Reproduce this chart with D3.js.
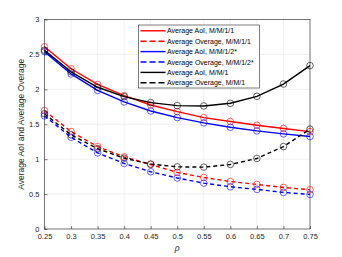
<!DOCTYPE html>
<meta charset="utf-8">
<style>
body { margin: 0; background: #fff; font-family: Helvetica, Arial, sans-serif; }
.grid line { stroke: #e6e6e6; stroke-width: 0.6; }
.axis text { font-size: 7.5px; fill: #262626; }
.axis path, .axis line { stroke: #262626; stroke-width: 0.6; }
</style>
<body>
<div id="chart"></div>
<script src="https://d3js.org/d3.v7.min.js"></script>
<script>
var width = 342, height = 257;
var margin = {top: 19.5, right: 32, bottom: 28, left: 44.5};

// rho values
var rho = [0.25, 0.3, 0.35, 0.4, 0.45, 0.5, 0.55, 0.6, 0.65, 0.7, 0.75];

var aoiM11 = [2.61, 2.295, 2.07, 1.91, 1.776, 1.68, 1.595, 1.54, 1.486, 1.44, 1.395];
var ovM11 = [1.695, 1.395, 1.18, 1.033, 0.924, 0.81, 0.738, 0.68, 0.638, 0.595, 0.562];
var aoiM12 = [2.54, 2.22, 1.985, 1.82, 1.69, 1.595, 1.52, 1.457, 1.405, 1.362, 1.324];
var ovM12 = [1.62, 1.314, 1.09, 0.938, 0.82, 0.73, 0.657, 0.605, 0.567, 0.524, 0.495];
var aoiM1 = [2.56, 2.25, 2.03, 1.895, 1.81, 1.767, 1.762, 1.8, 1.9, 2.076, 2.34];
var ovM1 = [1.65, 1.35, 1.15, 1.014, 0.93, 0.89, 0.886, 0.924, 1.01, 1.18, 1.43];

var xTicks = [0.25, 0.3, 0.35, 0.4, 0.45, 0.5, 0.55, 0.6, 0.65, 0.7, 0.75];
var yTicks = [0, 0.5, 1, 1.5, 2, 2.5, 3];

var series = [
  {name: "Average AoI, M/M/1/1", values: aoiM11, color: "#ff0000", dash: null},
  {name: "Average Overage, M/M/1/1", values: ovM11, color: "#ff0000", dash: "4,3"},
  {name: "Average AoI, M/M/1/2*", values: aoiM12, color: "#0000ff", dash: null},
  {name: "Average Overage, M/M/1/2*", values: ovM12, color: "#0000ff", dash: "4,3"},
  {name: "Average AoI, M/M/1", values: aoiM1, color: "#000000", dash: null},
  {name: "Average Overage, M/M/1", values: ovM1, color: "#000000", dash: "4,3"}
];

var svg = d3.select("#chart").append("svg")
    .attr("width", width)
    .attr("height", height);

var x = d3.scaleLinear().domain([0.25, 0.75]).range([margin.left, width - margin.right]);
var y = d3.scaleLinear().domain([0, 3]).range([height - margin.bottom, margin.top]);

// grid
var grid = svg.append("g").attr("class", "grid");
grid.selectAll(".gx").data(xTicks).enter().append("line")
    .attr("x1", d => x(d)).attr("x2", d => x(d))
    .attr("y1", y(0)).attr("y2", y(3));
grid.selectAll(".gy").data(yTicks).enter().append("line")
    .attr("x1", x(0.25)).attr("x2", x(0.75))
    .attr("y1", d => y(d)).attr("y2", d => y(d));

// box
svg.append("rect")
    .attr("x", x(0.25)).attr("y", y(3))
    .attr("width", x(0.75) - x(0.25)).attr("height", y(0) - y(3))
    .attr("fill", "none").attr("stroke", "#262626").attr("stroke-width", 0.6);

// axes
svg.append("g").attr("class", "axis")
    .attr("transform", "translate(0," + y(0) + ")")
    .call(d3.axisBottom(x).tickValues(xTicks).tickSize(-3).tickPadding(5).tickFormat(d => d3.format("")(d)))
    .select(".domain").remove();
svg.append("g").attr("class", "axis")
    .attr("transform", "translate(" + x(0.25) + ",0)")
    .call(d3.axisLeft(y).tickValues(yTicks).tickSize(-3).tickPadding(5).tickFormat(d => d3.format("")(d)))
    .select(".domain").remove();

// lines
var line = d3.line().x((d, i) => x(rho[i])).y(d => y(d));
series.forEach(function(s) {
  svg.append("path")
      .datum(s.values)
      .attr("fill", "none")
      .attr("stroke", s.color)
      .attr("stroke-width", 1.4)
      .attr("stroke-dasharray", s.dash)
      .attr("d", line);
  svg.append("g").selectAll("circle")
      .data(s.values)
    .enter().append("circle")
      .attr("cx", (d, i) => x(rho[i]))
      .attr("cy", d => y(d))
      .attr("r", 3.3)
      .attr("fill", "none")
      .attr("stroke", s.color)
      .attr("stroke-width", 0.6);
});

// axis labels
svg.append("text")
    .attr("transform", "translate(24," + ((y(0) + y(3)) / 2) + ") rotate(-90)")
    .attr("text-anchor", "middle")
    .attr("font-size", "8.5px")
    .attr("fill", "#262626")
    .text("Average AoI and Average Overage");
svg.append("text")
    .attr("x", (x(0.25) + x(0.75)) / 2)
    .attr("y", 251)
    .attr("text-anchor", "middle")
    .attr("font-size", "8.5px")
    .attr("font-style", "italic")
    .attr("fill", "#262626")
    .text("ρ");

// legend
var lg = svg.append("g").attr("transform", "translate(138.5,25)");
lg.append("rect")
    .attr("width", 121).attr("height", 63)
    .attr("fill", "#fff").attr("stroke", "#262626").attr("stroke-width", 0.6);
series.forEach(function(s, i) {
  var yy = 5.8 + i * 10.4;
  lg.append("line")
      .attr("x1", 2).attr("x2", 27).attr("y1", yy).attr("y2", yy)
      .attr("stroke", s.color).attr("stroke-width", 1.4)
      .attr("stroke-dasharray", s.dash ? "6,3" : null);
  lg.append("text")
      .attr("x", 28.5).attr("y", yy + 2.5)
      .attr("font-size", "7px")
      .attr("fill", "#000")
      .text(s.name);
});
</script>
</body>
